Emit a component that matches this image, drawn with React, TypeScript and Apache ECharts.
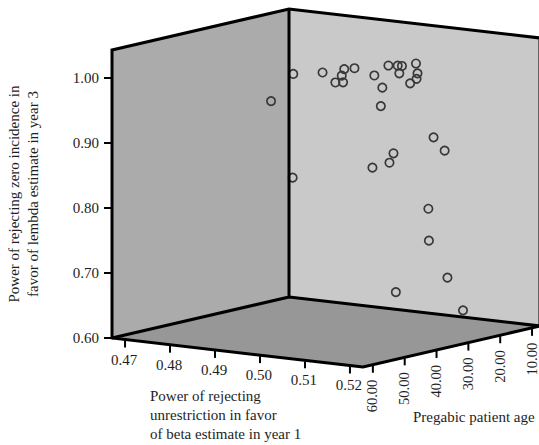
import React, { useEffect, useRef } from "react";
import * as echarts from "echarts";

// ---------- data ----------
const betaPower = [
  0.4914, 0.4948, 0.5031, 0.4997, 0.4958, 0.5041, 0.4968, 0.5044, 0.5134, 0.5166,
  0.5001, 0.5016, 0.5024, 0.5067, 0.5029, 0.5094, 0.5128, 0.5147, 0.4888, 0.5153,
  0.5172, 0.5071, 0.5084, 0.5049, 0.4953, 0.5145, 0.5142, 0.5157, 0.5089, 0.5181,
];
const patientAge = [
  40.5, 36.1, 43.8, 37.0, 30.7, 42.8, 28.9, 33.4, 43.6, 48.6,
  22.9, 22.1, 21.9, 28.8, 18.2, 26.9, 32.0, 36.7, 43.8, 30.2,
  29.4, 31.2, 34.3, 34.7, 46.2, 30.7, 30.1, 26.4, 33.0, 24.9,
];
const lambdaPower = [
  1.0, 1.0, 1.0, 1.0, 1.0, 1.0, 1.0, 1.0, 1.0, 0.98,
  1.0, 1.0, 1.0, 1.0, 1.0, 1.0, 1.0, 1.0, 0.96, 0.91,
  0.89, 0.88, 0.87, 0.86, 0.85, 0.8, 0.75, 0.69, 0.67, 0.64,
];

const betaTicks = [0.47, 0.48, 0.49, 0.5, 0.51, 0.52];
const ageTicks = [60, 50, 40, 30, 20, 10];
const lambdaTicks = [0.6, 0.7, 0.8, 0.9, 1.0];

const BETA_MIN = 0.4671;
const BETA_MAX = 0.5229;
const AGE_FRONT = 63.1;
const AGE_BACK = 7.5;
const LAMBDA_MIN = 0.6;
const LAMBDA_MAX = 1.0431;

// ---------- layout / style ----------
const SHEAR_Y = 29; // slope of the beta axis on screen
const DEPTH_X = 177; // depth (age) direction on screen
const DEPTH_Y = -41;
const FONT = "Liberation Serif";
const TEXT = "#1e1e1e";

function makeProject(params: any, api: any) {
  const cs = params.coordSys;
  return (b: number, a: number, l: number): number[] => {
    const p = api.coord([b, l]);
    const u = (p[0] - cs.x) / cs.width;
    const v = (AGE_FRONT - a) / (AGE_FRONT - AGE_BACK);
    return [p[0] + v * DEPTH_X, p[1] + u * SHEAR_Y + v * DEPTH_Y];
  };
}

export default function App() {
  const ref = useRef<HTMLDivElement>(null);

  useEffect(() => {
    if (!ref.current) return;
    const chart = echarts.init(ref.current, undefined, { renderer: "svg" });

    const points = betaPower.map((b, i) => [b, lambdaPower[i], patientAge[i]]);

    const option: any = {
      animation: false,
      backgroundColor: "#ffffff",
      grid: { left: 112, top: 50, width: 251, height: 288 },
      xAxis: { type: "value", min: BETA_MIN, max: BETA_MAX, show: false },
      yAxis: {
        type: "value",
        min: LAMBDA_MIN,
        max: LAMBDA_MAX,
        axisLine: { show: false },
        splitLine: { show: false },
        axisTick: {
          show: true,
          length: 8,
          customValues: lambdaTicks,
          lineStyle: { color: "#000", width: 2 },
        },
        axisLabel: {
          customValues: lambdaTicks,
          formatter: (v: number) => v.toFixed(2),
          fontSize: 15,
          fontFamily: FONT,
          color: TEXT,
          margin: 13,
        },
        name: "Power of rejecting zero incidence in\nfavor of lembda estimate in year 3",
        nameLocation: "middle",
        nameRotate: 90,
        nameGap: 70,
        nameTextStyle: { fontSize: 15, fontFamily: FONT, color: TEXT, lineHeight: 19 },
      },
      graphic: [
        {
          type: "text",
          left: 150,
          top: 386,
          style: {
            text: "Power of rejecting\nunrestriction in favor\nof beta estimate in year 1",
            fontSize: 15,
            fontFamily: FONT,
            lineHeight: 19,
            fill: TEXT,
          },
        },
        {
          type: "text",
          left: 413,
          top: 409,
          style: { text: "Pregabic patient age", fontSize: 15, fontFamily: FONT, fill: TEXT },
        },
      ],
      series: [
        {
          type: "custom",
          name: "box",
          z: 1,
          silent: true,
          data: [[BETA_MIN, LAMBDA_MIN]],
          encode: { x: 0, y: 1 },
          renderItem: (params: any, api: any) => {
            const P = makeProject(params, api);
            return {
              type: "group",
              children: [
                {
                  type: "polygon",
                  shape: {
                    points: [
                      P(BETA_MIN, AGE_FRONT, LAMBDA_MIN),
                      P(BETA_MIN, AGE_BACK, LAMBDA_MIN),
                      P(BETA_MIN, AGE_BACK, LAMBDA_MAX),
                      P(BETA_MIN, AGE_FRONT, LAMBDA_MAX),
                    ],
                  },
                  style: { fill: "#ababab" },
                },
                {
                  type: "polygon",
                  shape: {
                    points: [
                      P(BETA_MIN, AGE_BACK, LAMBDA_MIN),
                      P(BETA_MAX, AGE_BACK, LAMBDA_MIN),
                      P(BETA_MAX, AGE_BACK, LAMBDA_MAX),
                      P(BETA_MIN, AGE_BACK, LAMBDA_MAX),
                    ],
                  },
                  style: { fill: "#c9c9c9" },
                },
                {
                  type: "polygon",
                  shape: {
                    points: [
                      P(BETA_MIN, AGE_FRONT, LAMBDA_MIN),
                      P(BETA_MAX, AGE_FRONT, LAMBDA_MIN),
                      P(BETA_MAX, AGE_BACK, LAMBDA_MIN),
                      P(BETA_MIN, AGE_BACK, LAMBDA_MIN),
                    ],
                  },
                  style: { fill: "#979797" },
                },
              ],
            };
          },
        },
        {
          type: "custom",
          name: "cases",
          z: 2,
          data: points,
          encode: { x: 0, y: 1 },
          renderItem: (params: any, api: any) => {
            const P = makeProject(params, api);
            const c = P(api.value(0), api.value(2), api.value(1));
            return {
              type: "circle",
              shape: { cx: c[0], cy: c[1], r: 4.2 },
              style: { fill: "none", stroke: "#383838", lineWidth: 1.7 },
            };
          },
        },
        {
          type: "custom",
          name: "frame",
          z: 3,
          silent: true,
          data: [[BETA_MIN, LAMBDA_MIN]],
          encode: { x: 0, y: 1 },
          renderItem: (params: any, api: any) => {
            const P = makeProject(params, api);
            const ffl = P(BETA_MIN, AGE_FRONT, LAMBDA_MIN);
            const ffr = P(BETA_MAX, AGE_FRONT, LAMBDA_MIN);
            const bbl = P(BETA_MIN, AGE_BACK, LAMBDA_MIN);
            const bbr = P(BETA_MAX, AGE_BACK, LAMBDA_MIN);
            const ftl = P(BETA_MIN, AGE_FRONT, LAMBDA_MAX);
            const btl = P(BETA_MIN, AGE_BACK, LAMBDA_MAX);
            const btr = P(BETA_MAX, AGE_BACK, LAMBDA_MAX);
            const edge = { stroke: "#000", lineWidth: 3, fill: "none", lineJoin: "miter" };
            const children: any[] = [
              { type: "polygon", shape: { points: [ffr, ffl, ftl, btl, btr, bbr] }, style: edge },
              { type: "polyline", shape: { points: [ffl, bbl, btl] }, style: edge },
              { type: "polyline", shape: { points: [bbl, bbr] }, style: edge },
            ];
            betaTicks.forEach((t) => {
              const p = P(t, AGE_FRONT, LAMBDA_MIN);
              children.push({
                type: "line",
                shape: { x1: p[0], y1: p[1] + 1, x2: p[0], y2: p[1] + 8 },
                style: { stroke: "#000", lineWidth: 2 },
              });
              children.push({
                type: "text",
                x: p[0] - 1,
                y: p[1] + 20,
                style: {
                  text: t.toFixed(2),
                  fontSize: 15,
                  fontFamily: FONT,
                  fill: TEXT,
                  align: "center",
                  verticalAlign: "middle",
                },
              });
            });
            ageTicks.forEach((t) => {
              const p = P(BETA_MAX, t, LAMBDA_MIN);
              children.push({
                type: "line",
                shape: { x1: p[0], y1: p[1] + 1, x2: p[0], y2: p[1] + 8 },
                style: { stroke: "#000", lineWidth: 2 },
              });
              children.push({
                type: "text",
                x: p[0] - 0.5,
                y: p[1] + 15,
                rotation: Math.PI / 2,
                style: {
                  text: t.toFixed(2),
                  fontSize: 14.5,
                  fontFamily: FONT,
                  fill: TEXT,
                  align: "right",
                  verticalAlign: "middle",
                },
              });
            });
            return { type: "group", children };
          },
        },
      ],
    };

    chart.setOption(option);
    return () => chart.dispose();
  }, []);

  return (
    <div
      ref={ref}
      style={{ position: "absolute", left: 0, top: 0, width: 539, height: 445 }}
    />
  );
}
